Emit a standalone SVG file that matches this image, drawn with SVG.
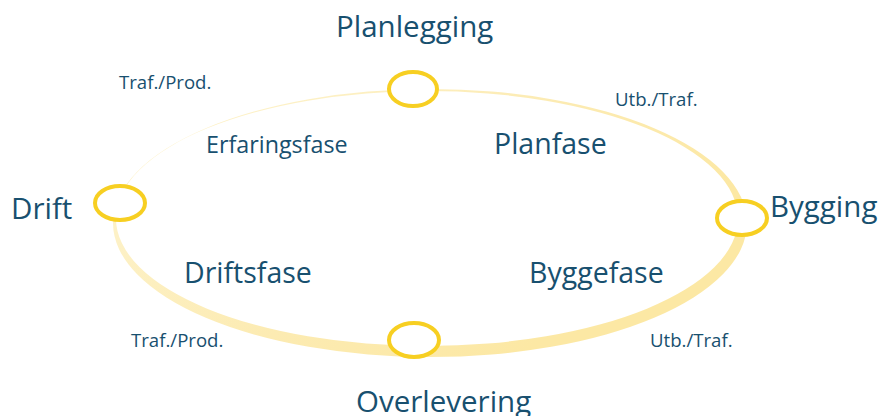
<svg xmlns="http://www.w3.org/2000/svg" width="882" height="416" viewBox="0 0 882 416">
  <defs>
    <linearGradient id="ringFade" gradientUnits="userSpaceOnUse" x1="300" y1="89" x2="520" y2="357">
      <stop offset="0" stop-color="#fdf1c6"/>
      <stop offset="0.5" stop-color="#fcebb2"/>
      <stop offset="1" stop-color="#fce8a4"/>
    </linearGradient>
    <style>
      .milestone ellipse { fill: #ffffff; stroke: #f7cf22; stroke-width: 4; }
      text { font-family: "Open Sans", "Noto Sans", "Liberation Sans", sans-serif; fill: #18506f; }
      .title { font-size: 29.5px; }
      .phase { font-size: 28.5px; }
      .phase.small { font-size: 23.3px; }
      .flow { font-size: 18.6px; }
    </style>
  </defs>
  <rect width="882" height="416" fill="#ffffff"/>

  <!-- crescent ring: outer ellipse minus offset inner ellipse -->
  <g id="connectors">
    <path fill="url(#ringFade)" fill-rule="evenodd"
      d="M113,223 A317,134 0 1,0 747,223 A317,134 0 1,0 113,223 Z
         M116,218.5 A311,127.5 0 1,0 738,218.5 A311,127.5 0 1,0 116,218.5 Z"/>
  </g>

  <!-- milestones -->
  <g id="planlegging" class="milestone">
    <ellipse cx="413" cy="89" rx="24" ry="17"/>
    <text class="title" x="336" y="37">Planlegging</text>
  </g>
  <g id="bygging" class="milestone">
    <ellipse cx="742" cy="218" rx="25" ry="17"/>
    <text class="title" x="770" y="217">Bygging</text>
  </g>
  <g id="overlevering" class="milestone">
    <ellipse cx="414" cy="340" rx="25" ry="17"/>
    <text class="title" x="356" y="412">Overlevering</text>
  </g>
  <g id="drift" class="milestone">
    <ellipse cx="120" cy="203" rx="25" ry="17"/>
    <text class="title" x="11" y="219">Drift</text>
  </g>

  <!-- phases -->
  <g id="planfase">
    <text class="phase" x="494" y="154">Planfase</text>
  </g>
  <g id="byggefase">
    <text class="phase" x="529" y="283">Byggefase</text>
  </g>
  <g id="driftsfase">
    <text class="phase" x="184" y="283">Driftsfase</text>
  </g>
  <g id="erfaringsfase">
    <text class="phase small" x="206" y="153">Erfaringsfase</text>
  </g>

  <!-- flow labels -->
  <g id="flow-labels">
    <text class="flow" x="119" y="89">Traf./Prod.</text>
    <text class="flow" x="615" y="106">Utb./Traf.</text>
    <text class="flow" x="131" y="347">Traf./Prod.</text>
    <text class="flow" x="650" y="347">Utb./Traf.</text>
  </g>
</svg>
